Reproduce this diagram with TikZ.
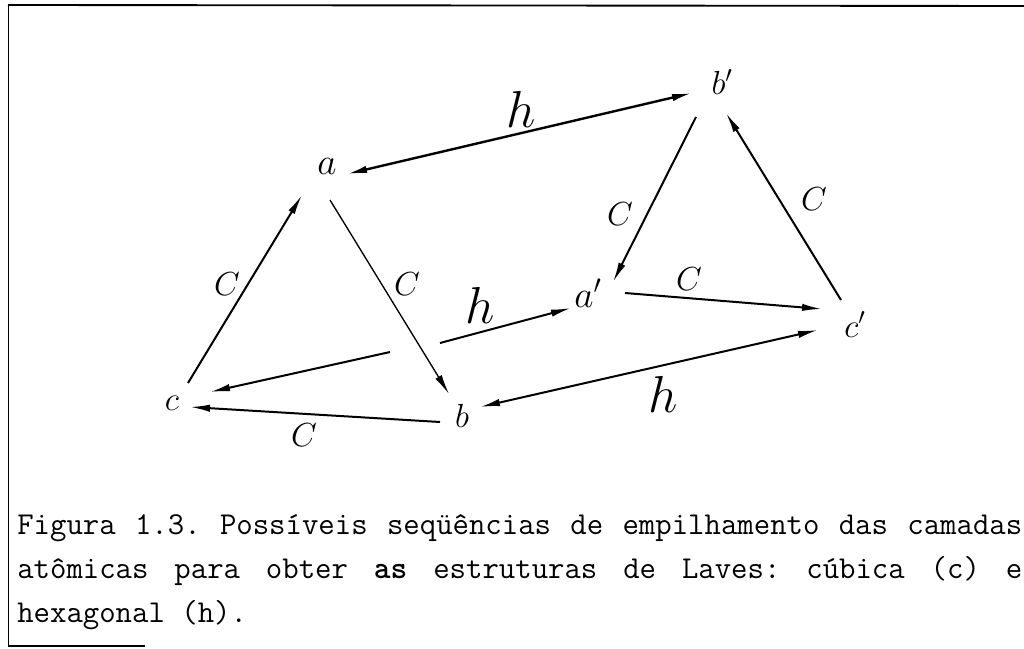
\RequirePackage{fix-cm}
\documentclass[tikz,border=0pt]{standalone}
\usepackage{fontspec}
\usetikzlibrary{arrows.meta}
\begin{document}
\begin{tikzpicture}[x=0.75pt,y=-0.75pt,
  lbl/.style={inner sep=0pt, anchor=base},
  vbig/.style={lbl, font=\fontsize{28}{32}\selectfont},
  vsm/.style={lbl, font=\fontsize{25}{30}\selectfont},
  clab/.style={lbl, font=\fontsize{25}{30}\selectfont},
  hlab/.style={lbl, font=\fontsize{39}{44}\selectfont},
  captext/.style={inner sep=0pt, anchor=base west, font=\ttfamily\fontsize{23.9}{28}\selectfont},
  arr/.style={-{Latex[length=15pt,width=5.5pt]}, line width=1.5pt},
  darr/.style={{Latex[length=15pt,width=5.5pt]}-{Latex[length=15pt,width=5.5pt]}, line width=1.5pt},
  thinarr/.style={-{Latex[length=15pt,width=5.5pt]}, line width=1pt}]
\useasboundingbox (0,0) rectangle (1024,649);
% frame
\draw[line width=1.4pt] (8,5) -- (1024,6);
\draw[line width=1pt] (8.5,5) -- (8.5,646);
\draw[line width=1.2pt] (8,646) -- (145,646);
% vertices
\node[vbig] (a) at (327,175) {$a$};
\node[vsm] (bp) at (722,95) {$b'$};
\node[vbig] (ap) at (588,307) {$a'$};
\node[vsm] (cp) at (855,337) {$c'$};
\node[vsm] (c) at (172,410) {$c$};
\node[vsm] (b) at (462,427) {$b$};
% labels
\node[hlab] (h1) at (521,128) {$h$};
\node[hlab] (h2) at (480,323) {$h$};
\node[hlab] (h3) at (663,412) {$h$};
\node[clab] (c1) at (227,295) {$C$};
\node[clab] (c2) at (407,295) {$C$};
\node[clab] (c3) at (620,225) {$C$};
\node[clab] (c4) at (814,210) {$C$};
\node[clab] (c5) at (689,290) {$C$};
\node[clab] (c6) at (304,446) {$C$};
% connectors
\draw[darr, line width=1.8pt] ([shift={(20,-1)}]a.base) -- ([shift={(-30,-2)}]bp.base);
\draw[arr] ([shift={(16,-27)}]c.base) -- ([shift={(-25,20)}]a.base);
\draw[thinarr] ([shift={(3,25)}]a.base) -- ([shift={(-13,-33)}]b.base);
\draw[arr] ([shift={(-26,22)}]bp.base) -- ([shift={(25,-25)}]ap.base);
\draw[arr] ([shift={(-14,-37)}]cp.base) -- ([shift={(4,18)}]bp.base);
\draw[arr] ([shift={(37,-14)}]ap.base) -- ([shift={(-33,-28)}]cp.base);
\coordinate (g1) at (390,352);
\coordinate (g2) at (440,343);
\draw[arr] (g2) -- ([shift={(-17,1)}]ap.base);
\draw[arr] (g1) -- ([shift={(38,-18)}]c.base);
\draw[darr] ([shift={(18,-20)}]b.base) -- ([shift={(-37,-7)}]cp.base);
\draw[arr] ([shift={(-22,-5)}]b.base) -- ([shift={(18,-3)}]c.base);
% caption
\node[captext] (cap1) at (17,534) {\makebox[753.75pt][l]{Figura\hfill 1.3.\hfill Possíveis\hfill seqüências\hfill de\hfill empilhamento\hfill das\hfill camadas}};
\node[captext] (cap2) at (17,578) {\makebox[753.75pt][l]{atômicas\hfill para\hfill obter\hfill \textbf{as}\hfill estruturas\hfill de\hfill Laves:\hfill cúbica\hfill (c)\hfill e}};
\node[captext] (cap3) at (17,622) {hexagonal (h).};
\end{tikzpicture}
\end{document}
